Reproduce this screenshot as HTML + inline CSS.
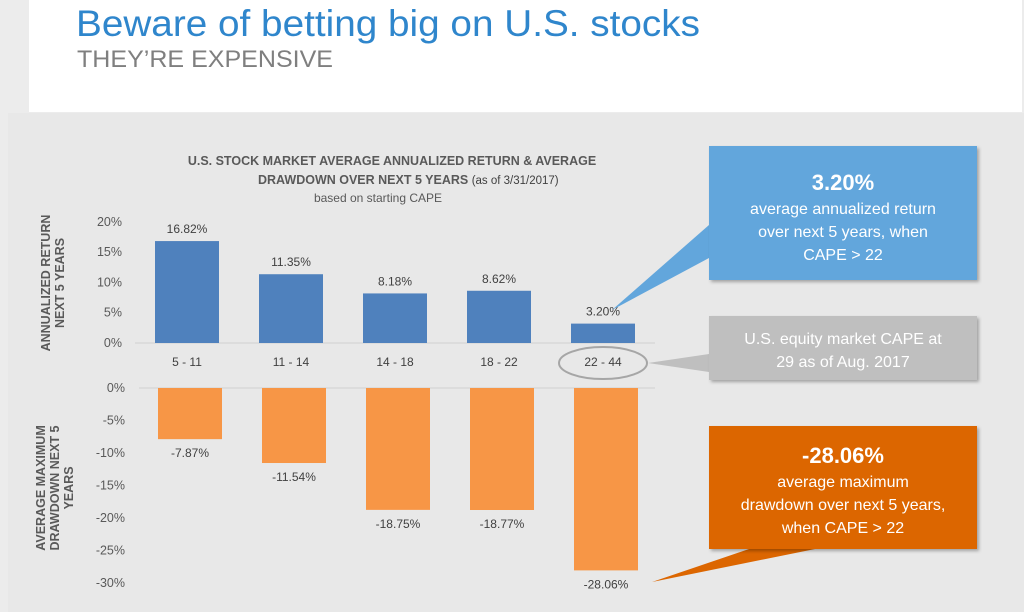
<!DOCTYPE html>
<html><head><meta charset="utf-8">
<style>
html,body{margin:0;padding:0;width:1024px;height:612px;overflow:hidden;background:#ececec;font-family:"Liberation Sans",sans-serif;}
svg{display:block}
</style></head>
<body>
<svg width="1024" height="612" viewBox="0 0 1024 612" xmlns="http://www.w3.org/2000/svg">
<defs>
<filter id="sh" x="-10%" y="-10%" width="125%" height="130%"><feDropShadow dx="2" dy="2" stdDeviation="1.5" flood-color="#000" flood-opacity="0.3"/></filter>
</defs>
<rect x="0" y="0" width="1024" height="612" fill="#ececec"/>
<rect x="29" y="0" width="993" height="112" fill="#ffffff"/>
<text x="76" y="36" font-size="37" fill="#2f86cc" textLength="624" lengthAdjust="spacingAndGlyphs">Beware of betting big on U.S. stocks</text>
<text x="77" y="67" font-size="24" fill="#7f7f7f" textLength="256" lengthAdjust="spacingAndGlyphs">THEY’RE EXPENSIVE</text>
<rect x="8" y="113" width="1016" height="499" fill="#e8e8e8"/>

<g font-family="Liberation Sans, sans-serif" fill="#595959">
<text x="392" y="165" font-size="12.5" font-weight="bold" text-anchor="middle">U.S. STOCK MARKET AVERAGE ANNUALIZED RETURN &amp; AVERAGE</text>
<text x="258" y="184" font-size="12.5" font-weight="bold">DRAWDOWN OVER NEXT 5 YEARS <tspan font-weight="normal" font-size="11.5" fill="#404040">(as of 3/31/2017)</tspan></text>
<text x="378" y="202" font-size="12" text-anchor="middle">based on starting CAPE</text>
</g>

<text transform="translate(50,283) rotate(-90)" font-size="12.5" font-weight="bold" fill="#595959" text-anchor="middle"><tspan x="0" dy="0">ANNUALIZED RETURN</tspan><tspan x="0" dy="14">NEXT 5 YEARS</tspan></text>
<text transform="translate(45,488) rotate(-90)" font-size="12.5" font-weight="bold" fill="#595959" text-anchor="middle"><tspan x="0" dy="0">AVERAGE MAXIMUM</tspan><tspan x="0" dy="14">DRAWDOWN NEXT 5</tspan><tspan x="0" dy="14">YEARS</tspan></text>

<g id="upper"></g>
<g id="lower"></g>

<ellipse cx="603" cy="363" rx="44" ry="16" fill="none" stroke="#a6a6a6" stroke-width="2"/>

<g>
<polygon points="709,225 709,258 612,310" fill="#62a6dc"/>
<rect x="709" y="146" width="268" height="134" fill="#62a6dc" filter="url(#sh)"/>
<text x="843" y="190" font-size="22" font-weight="bold" fill="#fff" text-anchor="middle">3.20%</text>
<text x="843" y="214" font-size="16" fill="#fff" text-anchor="middle">average annualized return</text>
<text x="843" y="237" font-size="16" fill="#fff" text-anchor="middle">over next 5 years, when</text>
<text x="843" y="260" font-size="16" fill="#fff" text-anchor="middle">CAPE &gt; 22</text>
</g>
<g>
<polygon points="709,354 709,372 648,363" fill="#bfbfbf"/>
<rect x="709" y="316" width="268" height="64" fill="#bfbfbf" filter="url(#sh)"/>
<text x="843" y="344" font-size="16" fill="#fff" text-anchor="middle">U.S. equity market CAPE at</text>
<text x="843" y="367" font-size="16" fill="#fff" text-anchor="middle">29 as of Aug. 2017</text>
</g>
<g>
<polygon points="752,548 820,548 652,582" fill="#dc6600"/>
<rect x="709" y="426" width="268" height="123" fill="#dc6600" filter="url(#sh)"/>
<text x="843" y="463" font-size="22" font-weight="bold" fill="#fff" text-anchor="middle">-28.06%</text>
<text x="843" y="487" font-size="16" fill="#fff" text-anchor="middle">average maximum</text>
<text x="843" y="510" font-size="16" fill="#fff" text-anchor="middle">drawdown over next 5 years,</text>
<text x="843" y="533" font-size="16" fill="#fff" text-anchor="middle">when CAPE &gt; 22</text>
</g>
</svg>
<script>
const categories = ["5 - 11","11 - 14","14 - 18","18 - 22","22 - 44"];
const returnValues = [16.82, 11.35, 8.18, 8.62, 3.20];
const drawdownValues = [-7.87, -11.54, -18.75, -18.77, -28.06];
const upperTicks = [0, 5, 10, 15, 20];
const lowerTicks = [0, -5, -10, -15, -20, -25, -30];

const NS = "http://www.w3.org/2000/svg";
function mk(tag, attrs, parent){const e=document.createElementNS(NS,tag);for(const k in attrs)e.setAttribute(k,attrs[k]);parent.appendChild(e);return e;}
const xLeft=135, xStep=104, barW=64;
function xc(i){return xLeft+xStep*(i+0.5);}
function yUp(v){return 343-v*6.06;}
function yLo(v){return 388-v*6.5;}

const up=document.getElementById('upper');
const lo=document.getElementById('lower');
let ax=mk('line',{x1:xLeft,x2:xLeft+xStep*5,y1:yUp(0),y2:yUp(0),stroke:'#d0d0d0','stroke-width':1},up);


upperTicks.forEach(t=>{
  const e=mk('text',{x:122,y:yUp(t)+4,'font-size':12.5,fill:'#595959','text-anchor':'end'},up);
  e.textContent=t+'%';
  
  
});
returnValues.forEach((v,i)=>{
  const r=mk('rect',{x:xc(i)-barW/2,y:yUp(v),width:barW,height:yUp(0)-yUp(v),fill:'#4f81bd'},up);
  
  
  const l=mk('text',{x:xc(i),y:yUp(v)-8,'font-size':12,fill:'#404040','text-anchor':'middle'},up);
  l.textContent=v.toFixed(2)+'%';
  
  
  const c=mk('text',{x:xc(i),y:366,'font-size':12,fill:'#404040','text-anchor':'middle'},up);
  c.textContent=categories[i];
  
  
});
let ax2=mk('line',{x1:xLeft+4,x2:xLeft+xStep*5,y1:yLo(0),y2:yLo(0),stroke:'#d0d0d0','stroke-width':1},lo);


lowerTicks.forEach(t=>{
  const e=mk('text',{x:125,y:yLo(t)+4,'font-size':12.5,fill:'#595959','text-anchor':'end'},lo);
  e.textContent=t+'%';
  
  
});
drawdownValues.forEach((v,i)=>{
  const r=mk('rect',{x:xc(i)-barW/2+3,y:yLo(0),width:barW,height:yLo(v)-yLo(0),fill:'#f79646'},lo);
  
  
  const l=mk('text',{x:xc(i)+3,y:yLo(v)+18,'font-size':12,fill:'#404040','text-anchor':'middle'},lo);
  l.textContent=v.toFixed(2)+'%';
  
  
});
</script>
</body></html>
